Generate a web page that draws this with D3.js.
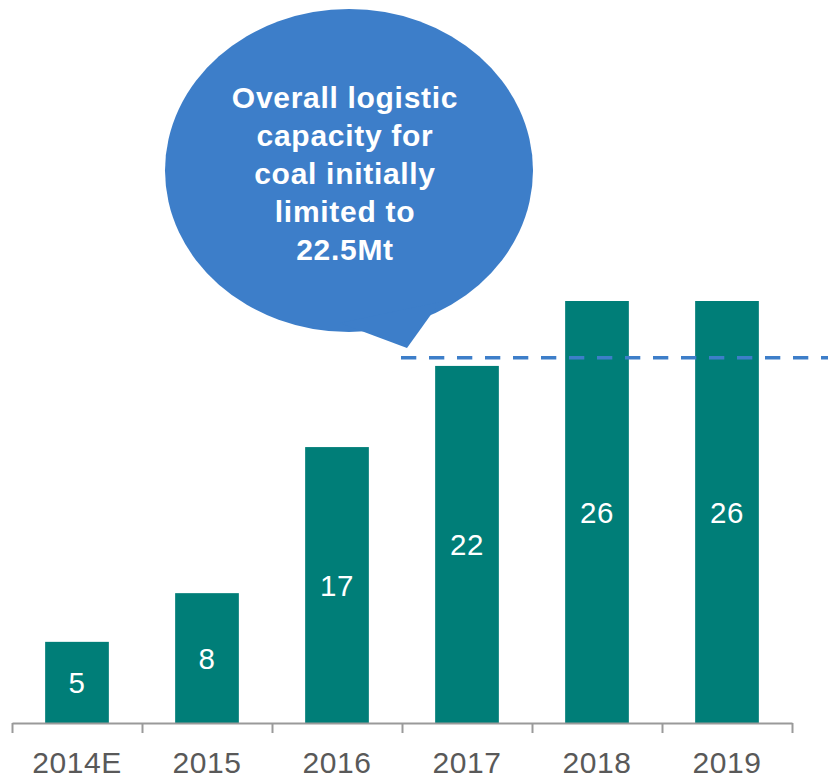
<!DOCTYPE html>
<html>
<head>
<meta charset="utf-8">
<script src="https://cdn.jsdelivr.net/npm/d3@7"></script>
<style>
  html, body { margin: 0; padding: 0; background: #fff; }
  svg { display: block; font-family: "Liberation Sans", Arial, sans-serif; }
</style>
</head>
<body>
<svg id="chart" width="828" height="779"></svg>
<script>
// Coal capacity by year (Mt)
const years = ["2014E", "2015", "2016", "2017", "2018", "2019"];
const capacity = [5, 8, 17, 22, 26, 26];
const logisticLimit = 22.5;
const calloutLines = ["Overall logistic", "capacity for", "coal initially", "limited to", "22.5Mt"];

const W = 828, H = 779;
const axisLeft = 12, axisRight = 792, baseY = 723, topY = 301;

const svg = d3.select("#chart");

const x = d3.scaleBand()
  .domain(years)
  .range([axisLeft, axisRight])
  .paddingInner(0.51)
  .paddingOuter(0.255);

// category boundaries for the tick marks
const edges = d3.scaleLinear().domain([0, years.length]).range([axisLeft, axisRight]);

const y = d3.scaleLinear().domain([0, d3.max(capacity)]).range([baseY, topY]);

const teal = "#007E78";
const blue = "#3D7EC9";

// bars
svg.append("g")
  .selectAll("rect")
  .data(years)
  .join("rect")
  .attr("x", d => x(d))
  .attr("width", x.bandwidth())
  .attr("y", (d, i) => y(capacity[i]))
  .attr("height", (d, i) => y(0) - y(capacity[i]))
  .attr("fill", teal);

// value labels centred inside each bar
svg.append("g")
  .selectAll("text")
  .data(years)
  .join("text")
  .attr("x", d => x(d) + x.bandwidth() / 2)
  .attr("y", (d, i) => (y(capacity[i]) + y(0)) / 2 + 11)
  .attr("text-anchor", "middle")
  .attr("fill", "#fff")
  .attr("font-size", 29.5)
  .attr("letter-spacing", 0.5)
  .text((d, i) => capacity[i]);

// x axis: boundary ticks
const axisG = svg.append("g")
  .attr("transform", `translate(0,${baseY})`)
  .call(d3.axisBottom(edges)
    .tickValues(d3.range(0, years.length + 1))
    .tickSize(10)
    .tickSizeOuter(0)
    .tickFormat(""));
axisG.select(".domain").attr("stroke", "#9A9A9A").attr("stroke-width", 2);
axisG.selectAll(".tick line").attr("stroke", "#9A9A9A").attr("stroke-width", 2);

// category labels
svg.append("g")
  .selectAll("text")
  .data(years)
  .join("text")
  .attr("x", d => x(d) + x.bandwidth() / 2)
  .attr("y", 773)
  .attr("text-anchor", "middle")
  .attr("fill", "#595959")
  .attr("font-size", 30)
  .attr("letter-spacing", 0.6)
  .text(d => d);

// logistic limit line
svg.append("line")
  .attr("x1", edges(3) - 1)
  .attr("x2", W)
  .attr("y1", y(logisticLimit))
  .attr("y2", y(logisticLimit))
  .attr("stroke", blue)
  .attr("stroke-width", 3.5)
  .attr("stroke-dasharray", "15.3,12.7");

// speech-bubble callout
const bubble = svg.append("g");
const cx = 349, cy = 170.5, rx = 184, ry = 161.5;
bubble.append("ellipse")
  .attr("cx", cx).attr("cy", cy)
  .attr("rx", rx).attr("ry", ry)
  .attr("fill", blue);
bubble.append("path")
  .attr("d", d3.line()([[340, 323], [407, 348], [440, 302]]) + "Z")
  .attr("fill", blue);

bubble.append("g")
  .selectAll("text")
  .data(calloutLines)
  .join("text")
  .attr("x", 345)
  .attr("y", (d, i) => 108 + i * 38)
  .attr("text-anchor", "middle")
  .attr("fill", "#fff")
  .attr("font-weight", "bold")
  .attr("font-size", 30)
  .attr("letter-spacing", 0.7)
  .text(d => d);
</script>
</body>
</html>
